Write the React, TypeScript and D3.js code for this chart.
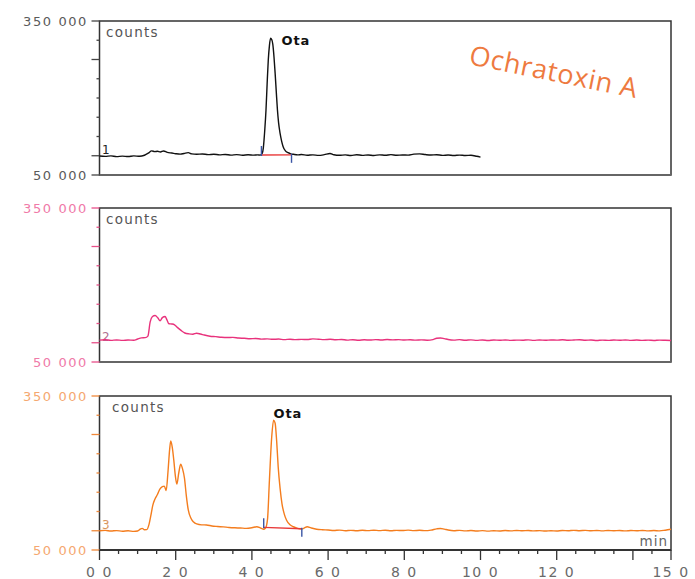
import React from 'react';
import * as d3 from 'd3';

// retention time (min), counts
const trace1: [number, number][] = [
  [0, 87000], [0.15, 86200], [0.3, 87300], [0.45, 85800], [0.6, 86700], [0.75, 86000],
  [0.9, 87200], [1.05, 86400], [1.18, 88500], [1.28, 92500], [1.37, 97000], [1.45, 95500],
  [1.52, 96200], [1.6, 94800], [1.68, 96800], [1.78, 94000], [1.9, 92800], [2.0, 91500],
  [2.12, 90600], [2.22, 92000], [2.33, 93500], [2.42, 91200], [2.55, 90400], [2.7, 91000],
  [2.85, 89600], [3.0, 90500], [3.15, 89200], [3.3, 90000], [3.45, 88800], [3.6, 89700],
  [3.75, 88600], [3.9, 89400], [4.05, 88700], [4.15, 89300], [4.22, 88800], [4.27, 92000],
  [4.3, 103000], [4.34, 140000], [4.37, 176600], [4.4, 228000], [4.43, 274000], [4.46, 302000],
  [4.49, 316300], [4.52, 314000], [4.55, 304000], [4.58, 280000], [4.61, 248000], [4.64, 212000],
  [4.67, 177000], [4.7, 152000], [4.74, 131000], [4.78, 116000], [4.82, 105000], [4.88, 97000],
  [4.95, 93400], [5.02, 91200], [5.09, 90300], [5.2, 89200], [5.3, 89900], [5.45, 88500],
  [5.6, 89300], [5.75, 88200], [5.9, 89600], [6.05, 92000], [6.15, 89500], [6.3, 88400],
  [6.45, 89200], [6.6, 88000], [6.75, 89400], [6.9, 88300], [7.05, 89000], [7.2, 88100],
  [7.35, 89300], [7.5, 88400], [7.65, 89600], [7.8, 88500], [7.95, 89100], [8.1, 88700],
  [8.25, 90600], [8.4, 91200], [8.55, 89800], [8.7, 88900], [8.85, 89500], [9.0, 88200],
  [9.15, 89000], [9.3, 88000], [9.45, 88800], [9.6, 87900], [9.75, 88400], [9.9, 86500],
  [10.0, 84800],
];

const trace2: [number, number][] = [
  [0, 92700], [0.15, 93400], [0.3, 92200], [0.45, 93000], [0.6, 92100], [0.75, 92800],
  [0.9, 92300], [1.0, 94800], [1.1, 97000], [1.2, 97400], [1.27, 100500], [1.33, 128000],
  [1.39, 138500], [1.46, 140500], [1.53, 136000], [1.59, 130500], [1.65, 136500], [1.72, 138500],
  [1.77, 132000], [1.82, 124500], [1.9, 124000], [1.97, 122500], [2.05, 117000], [2.14, 111500],
  [2.24, 106500], [2.35, 104800], [2.45, 104200], [2.55, 106000], [2.65, 104500], [2.75, 102500],
  [2.9, 100200], [3.05, 99400], [3.2, 98200], [3.35, 97600], [3.5, 97900], [3.65, 96700],
  [3.8, 96200], [3.95, 95400], [4.1, 95800], [4.25, 94600], [4.4, 95000], [4.55, 94200],
  [4.7, 94700], [4.85, 93600], [5.0, 94400], [5.15, 93500], [5.3, 94100], [5.45, 93800],
  [5.6, 95000], [5.75, 94300], [5.9, 93600], [6.05, 94200], [6.2, 93300], [6.35, 93900],
  [6.5, 92600], [6.65, 93400], [6.8, 92500], [6.95, 93200], [7.1, 92800], [7.25, 93600],
  [7.4, 92900], [7.55, 93700], [7.7, 93100], [7.85, 93500], [8.0, 92800], [8.15, 93300],
  [8.3, 92600], [8.45, 93100], [8.6, 92500], [8.75, 93600], [8.85, 96200], [8.95, 96800],
  [9.05, 95500], [9.15, 93800], [9.3, 92700], [9.45, 93500], [9.6, 92400], [9.75, 93100],
  [9.9, 92200], [10.05, 92900], [10.2, 92000], [10.35, 92800], [10.5, 92300], [10.65, 93000],
  [10.8, 92100], [10.95, 92700], [11.1, 92400], [11.25, 93100], [11.4, 92200], [11.55, 92900],
  [11.7, 92300], [11.85, 93000], [12.0, 92600], [12.15, 93300], [12.3, 92400], [12.45, 92900],
  [12.6, 93400], [12.75, 92300], [12.9, 92800], [13.05, 91900], [13.2, 92700], [13.35, 92100],
  [13.5, 92900], [13.65, 92300], [13.8, 93000], [13.95, 92200], [14.1, 92800], [14.25, 92100],
  [14.4, 92600], [14.55, 92000], [14.7, 92700], [14.85, 92300], [15.0, 92000],
];

const trace3: [number, number][] = [
  [0, 87500], [0.15, 88200], [0.3, 87000], [0.45, 87800], [0.6, 86600], [0.75, 87400],
  [0.9, 86200], [1.0, 87000], [1.07, 90500], [1.12, 92200], [1.18, 89500], [1.24, 89800],
  [1.3, 100000], [1.35, 118000], [1.4, 137500], [1.46, 150000], [1.52, 158000], [1.58, 168000],
  [1.65, 173500], [1.7, 174500], [1.75, 166000], [1.8, 205000], [1.84, 245000], [1.87, 262500],
  [1.91, 250000], [1.95, 225000], [1.99, 195000], [2.03, 178500], [2.08, 200000], [2.13, 217000],
  [2.18, 208000], [2.23, 190000], [2.28, 155000], [2.33, 128000], [2.4, 112000], [2.47, 104500],
  [2.55, 100800], [2.68, 99000], [2.81, 98800], [2.95, 96800], [3.1, 95800], [3.25, 95000],
  [3.4, 93900], [3.55, 93200], [3.7, 92800], [3.85, 92200], [4.0, 93400], [4.13, 95400],
  [4.22, 93000], [4.3, 90500], [4.36, 93000], [4.41, 110000], [4.46, 186000], [4.52, 270000],
  [4.57, 302800], [4.61, 297000], [4.65, 262000], [4.69, 212000], [4.74, 170000], [4.79, 140000],
  [4.85, 120000], [4.91, 108000], [5.0, 99000], [5.09, 95300], [5.2, 92000], [5.31, 90800],
  [5.38, 93000], [5.45, 95400], [5.55, 93200], [5.7, 90500], [5.85, 89500], [6.0, 89000],
  [6.15, 88000], [6.3, 88700], [6.45, 87600], [6.6, 88300], [6.75, 87500], [6.9, 88400],
  [7.05, 87700], [7.2, 88600], [7.35, 87800], [7.5, 88500], [7.65, 87600], [7.8, 88300],
  [7.95, 87900], [8.1, 88700], [8.25, 87800], [8.4, 88400], [8.55, 87700], [8.7, 88800],
  [8.85, 91200], [8.95, 92000], [9.05, 90600], [9.15, 88900], [9.3, 87600], [9.45, 88300],
  [9.6, 87200], [9.75, 87900], [9.9, 86900], [10.05, 87700], [10.2, 86800], [10.35, 87600],
  [10.5, 87100], [10.65, 87900], [10.8, 87300], [10.95, 88100], [11.1, 87400], [11.25, 88000],
  [11.4, 87200], [11.55, 87800], [11.7, 86900], [11.85, 87600], [12.0, 87100], [12.15, 88000],
  [12.3, 87500], [12.45, 88300], [12.6, 87600], [12.75, 88200], [12.9, 87400], [13.05, 88000],
  [13.2, 87300], [13.35, 88100], [13.5, 87500], [13.65, 87900], [13.8, 87200], [13.95, 88000],
  [14.1, 87400], [14.25, 88100], [14.4, 87300], [14.55, 87900], [14.7, 87200], [14.85, 88600],
  [15.0, 90500],
];

// integration baselines: [start time, start counts, end time, end counts]
const integration1 = [4.25, 89000, 5.04, 89300];
const integration3 = [4.31, 94100, 5.31, 91400];

// peak labels: [time, counts]
const peak1 = [4.49, 316300];
const peak3 = [4.57, 302800];

const yDomain = [50000, 350000];
const yTickStep = 37500;
const yLongTicks = [50000, 87500, 275000, 350000];
const yTickLabels = ['350 000', '50 000'];

const xTickValues = [0, 2, 4, 6, 8, 10, 12, 15];
const xTickLabels = ['0 0', '2 0', '4 0', '6 0', '8 0', '10 0', '12 0', '15 0'];

const W = 695;
const H = 579;
const LEFT = 99.5;
const RIGHT = 671;
const PANEL_H = 154;
const FONT = 'DejaVu Sans, Verdana, sans-serif';

const panels = [
  { top: 21, data: trace1, stroke: '#111', tick: '#444', label: '#5a5a5a', num: '1', numColor: '#222', integ: integration1, peak: peak1, peakDx: 11, peakDy: 7, countsX: 106 },
  { top: 208, data: trace2, stroke: '#e8327c', tick: '#e8508a', label: '#f07aa8', num: '2', numColor: '#b07090', integ: null, peak: null, peakDx: 0, peakDy: 0, countsX: 106 },
  { top: 396, data: trace3, stroke: '#f47d1e', tick: '#f0893a', label: '#f5a870', num: '3', numColor: '#d9965e', integ: integration3, peak: peak3, peakDx: 0, peakDy: -2, countsX: 112 },
];

export default function App() {
  const x = d3.scaleLinear().domain([0, 15]).range([LEFT, RIGHT]);
  const yTicks = d3.range(yDomain[0], yDomain[1] + 1, yTickStep);
  const xMinor = d3.range(0, 15.01, 0.5);
  const bottom3 = panels[2].top + PANEL_H;

  return (
    <svg width={W} height={H} style={{ position: 'absolute', left: 0, top: 0, background: '#fff' }}>
      {panels.map((p, i) => {
        const y = d3.scaleLinear().domain(yDomain).range([p.top + PANEL_H, p.top]);
        const line = d3.line<[number, number]>()
          .x(d => x(d[0]))
          .y(d => y(d[1]))
          .curve(d3.curveMonotoneX);
        return (
          <g key={i}>
            {/* frame */}
            <rect x={LEFT} y={p.top} width={RIGHT - LEFT} height={PANEL_H} fill="none" stroke="#333" strokeWidth={1.5} />
            <line x1={LEFT} x2={RIGHT} y1={p.top + PANEL_H} y2={p.top + PANEL_H} stroke={i < 2 ? '#666' : '#333'} strokeWidth={2} />
            {/* y ticks */}
            {yTicks.map(t => (
              <line key={t} x1={LEFT - (yLongTicks.includes(t) ? 8 : 3)} x2={LEFT} y1={y(t)} y2={y(t)} stroke={p.tick} strokeWidth={1.3} />
            ))}
            <text x={88} y={y(yDomain[1]) + 5} textAnchor="end" fontFamily={FONT} fontSize={13} letterSpacing={1.6} fill={p.label}>{yTickLabels[0]}</text>
            <text x={88} y={y(yDomain[0]) + 5} textAnchor="end" fontFamily={FONT} fontSize={13} letterSpacing={1.6} fill={p.label}>{yTickLabels[1]}</text>
            <text x={p.countsX} y={p.top + 16} fontFamily={FONT} fontSize={13.5} letterSpacing={1.3} fill="#555">counts</text>
            <text x={102} y={y(yTickStep + yDomain[0]) - 2} fontFamily={FONT} fontSize={12} fill={p.numColor}>{p.num}</text>
            {/* trace */}
            <path d={line(p.data) || ''} fill="none" stroke={p.stroke} strokeWidth={1.4} strokeLinejoin="round" />
            {p.integ && (
              <g>
                <line x1={x(p.integ[0])} x2={x(p.integ[2])} y1={y(p.integ[1])} y2={y(p.integ[3])} stroke="#e83838" strokeWidth={1.3} />
                <line x1={x(p.integ[0])} x2={x(p.integ[0])} y1={y(p.integ[1]) - 9} y2={y(p.integ[1]) + 1} stroke="#3a55a5" strokeWidth={1.4} />
                <line x1={x(p.integ[2])} x2={x(p.integ[2])} y1={y(p.integ[3]) - 1} y2={y(p.integ[3]) + 8} stroke="#3a55a5" strokeWidth={1.4} />
              </g>
            )}
            {p.peak && (
              <text x={x(p.peak[0]) + p.peakDx} y={y(p.peak[1]) + p.peakDy} fontFamily={FONT} fontSize={13} fontWeight={600} letterSpacing={0.8} fill="#111">Ota</text>
            )}
          </g>
        );
      })}

      {/* x axis (bottom panel) */}
      {xMinor.map(t => {
        const major = t % 2 === 0 || t === 15;
        return <line key={t} x1={x(t)} x2={x(t)} y1={bottom3} y2={bottom3 + (major ? 10 : 4)} stroke="#333" strokeWidth={1.3} />;
      })}
      {xTickValues.map((t, i) => (
        <text key={t} x={x(t)} y={577} textAnchor="middle" fontFamily={FONT} fontSize={14} letterSpacing={1.5} fill="#6a6a6a">{xTickLabels[i]}</text>
      ))}
      <text x={668} y={546} textAnchor="end" fontFamily={FONT} fontSize={13.5} letterSpacing={1} fill="#666">min</text>

      {/* annotation */}
      <text transform="translate(468,64) rotate(11.5)" fontFamily="Open Sans, Lato, sans-serif" fontSize={27} fontWeight={500} letterSpacing={0.6} fill="#ee7a40">Ochratoxin A</text>
    </svg>
  );
}
